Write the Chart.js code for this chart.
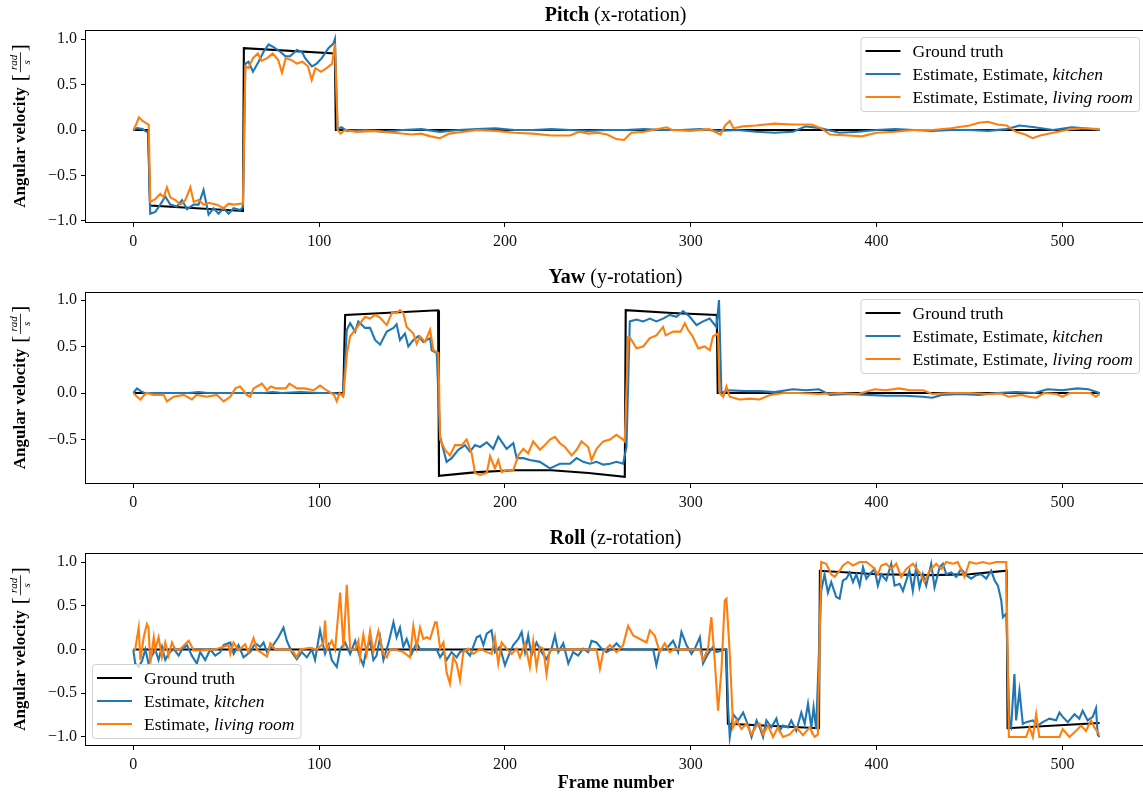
<!DOCTYPE html>
<html>
<head>
<meta charset="utf-8">
<script src="https://cdn.jsdelivr.net/npm/chart.js@4.4.0/dist/chart.umd.min.js"></script>
<style>
  html, body { margin: 0; padding: 0; background: #fff; overflow: hidden; }
  #wrap { position: relative; width: 1143px; height: 796px; overflow: hidden; }
  canvas { position: absolute; left: 0; }
</style>
</head>
<body>
<div id="wrap">
  <canvas id="pitch" width="1147" height="262" style="top:0px"></canvas>
  <canvas id="yaw" width="1147" height="262" style="top:262px"></canvas>
  <canvas id="roll" width="1147" height="272" style="top:524px"></canvas>
</div>
<script>
// ---- data: [frame, angular velocity] ----
const xTicks = [0, 100, 200, 300, 400, 500];
const yTicksFull = [-1.0, -0.5, 0.0, 0.5, 1.0];
const yTicksYaw = [-0.5, 0.0, 0.5, 1.0];

const pitchGround = [[0,0],[8,0],[9,-0.83],[59,-0.89],[59.5,0.90],[108.5,0.84],[109,0],[520,0]];
const pitchKitchen = [[0,0],[2,0.02],[5,0.01],[7,-0.02],[8,-0.02],[9.1,-0.92],[11.8,-0.90],[14.5,-0.82],[17.2,-0.73],[19.9,-0.82],[23.5,-0.84],[26.2,-0.77],[28.9,-0.87],[32.5,-0.82],[35.1,-0.82],[37.8,-0.66],[40.5,-0.93],[43.2,-0.86],[45.9,-0.92],[48.6,-0.86],[51.3,-0.92],[54,-0.86],[57.5,-0.88],[59,-0.85],[60.3,0.73],[62,0.75],[64.4,0.64],[67.4,0.75],[70.1,0.86],[72.8,0.94],[75.5,0.91],[79.1,0.86],[81.8,0.81],[84.4,0.81],[88,0.88],[90.7,0.86],[92.5,0.79],[96.1,0.70],[98.7,0.73],[101.4,0.79],[105,0.90],[107.7,0.95],[108.5,1.0],[109.9,0.01],[112,0.03],[115,-0.01],[125,0],[135,-0.02],[145,0],[155,0.01],[165,-0.02],[175,0],[185,0.01],[195,0.02],[205,0],[215,0],[225,0.01],[235,0],[245,-0.01],[255,0],[265,0],[275,0.01],[285,0],[295,0],[305,0.01],[315,-0.01],[325,0],[335,-0.02],[345,-0.03],[355,-0.02],[362,0.04],[370,0.02],[380,-0.03],[390,-0.02],[400,0],[410,0.01],[420,0],[430,-0.01],[440,0],[450,0],[460,-0.01],[470,0.01],[477,0.05],[485,0.03],[495,0],[505,0.03],[512,0.02],[520,0]];
const pitchLiving = [[0,0],[1.5,0.06],[3,0.14],[5,0.10],[7.3,0.07],[8.3,0.06],[9.1,-0.79],[11.8,-0.76],[14.5,-0.70],[16.3,-0.74],[18.1,-0.63],[19.9,-0.74],[22.6,-0.77],[25.3,-0.82],[28,-0.77],[30.7,-0.63],[32.5,-0.79],[35.1,-0.77],[37.8,-0.82],[40.5,-0.80],[45,-0.82],[48.6,-0.86],[51.3,-0.81],[54,-0.82],[57.5,-0.81],[59,-0.81],[60.3,0.70],[62,0.68],[64.4,0.79],[67,0.84],[69,0.76],[72,0.79],[75,0.84],[78,0.77],[80,0.63],[82,0.79],[85,0.77],[88,0.73],[91,0.75],[94,0.70],[96,0.55],[98,0.68],[101,0.64],[104,0.68],[107,0.73],[108.5,0.95],[110,0],[111.5,-0.04],[114,0],[120,-0.02],[130,-0.01],[140,-0.03],[150,-0.05],[155,-0.04],[160,-0.07],[165,-0.09],[170,-0.04],[178,-0.02],[185,0],[195,-0.01],[205,-0.03],[215,-0.04],[225,-0.06],[235,-0.06],[240,-0.02],[245,-0.04],[250,-0.03],[255,-0.05],[260,-0.10],[264,-0.11],[268,-0.03],[275,-0.02],[287,0.03],[290,0],[300,-0.01],[310,0.01],[316,-0.05],[318.5,0.05],[321,0.10],[323,0.02],[328,0.04],[335,0.05],[345,0.07],[355,0.06],[365,0.06],[370,0.02],[375,-0.05],[385,-0.06],[392,-0.07],[400,-0.03],[410,-0.02],[420,0],[430,0],[440,0.02],[450,0.05],[455,0.08],[460,0.09],[465,0.06],[470,0.05],[475,-0.02],[480,-0.05],[484,-0.09],[488,-0.06],[495,-0.03],[505,0.01],[512,0.02],[520,0.01]];

const yawGround = [[0,0],[113,0],[114,0.84],[164,0.89],[164.5,-0.89],[185,-0.85],[205,-0.83],[225,-0.83],[245,-0.86],[264.5,-0.90],[265,0.89],[290,0.86],[314,0.84],[314.5,0],[520,0]];
const yawKitchen = [[0,0],[2,0.05],[4,0.02],[6,0],[10,0],[20,0],[30,0],[35,0.01],[40,0],[50,0],[60,0],[70,0],[75,0.01],[80,0],[90,0.01],[100,0],[108,0],[113,-0.02],[114.9,0.68],[116.7,0.75],[119.4,0.66],[121.1,0.77],[124.7,0.70],[127.4,0.70],[130.1,0.57],[132.8,0.52],[136.4,0.66],[140,0.70],[141.7,0.74],[143.5,0.57],[146.2,0.64],[148,0.50],[150.7,0.57],[153.4,0.61],[156.1,0.55],[159.7,0.59],[160.6,0.46],[163.3,0.43],[165.1,-0.47],[166.9,-0.61],[168.6,-0.74],[171.3,-0.70],[174.9,-0.61],[178.5,-0.56],[181.2,-0.63],[183.9,-0.56],[186.6,-0.58],[190.2,-0.53],[193.7,-0.60],[196.4,-0.47],[200.9,-0.60],[204.5,-0.54],[206.3,-0.70],[209.9,-0.70],[213.4,-0.72],[218.8,-0.74],[224.2,-0.81],[229.6,-0.76],[235,-0.76],[238.6,-0.70],[242.1,-0.74],[245.7,-0.76],[249.3,-0.74],[252.9,-0.77],[256.5,-0.76],[260,-0.74],[263.6,-0.76],[265.4,-0.58],[267.2,0.77],[270.8,0.79],[274.4,0.77],[278,0.80],[281.5,0.77],[285.1,0.80],[288.7,0.84],[292.3,0.82],[295.9,0.88],[299.5,0.82],[303.1,0.73],[306.6,0.77],[310.2,0.80],[313.8,0.71],[315.2,1.0],[316.5,0],[320,0.03],[330,0.02],[337,0.02],[345,0.01],[355,0.04],[362,0.03],[369,0.04],[375,-0.02],[385,-0.01],[395,-0.02],[405,-0.03],[415,-0.03],[425,-0.04],[430,-0.05],[435,-0.02],[445,-0.01],[455,-0.02],[465,0],[475,0.01],[485,0],[492,0.04],[500,0.03],[508,0.05],[514,0.04],[520,0]];
const yawLiving = [[0,0],[2,-0.04],[3.8,-0.07],[6,-0.02],[7.3,0],[10.9,-0.02],[16.3,-0.02],[18.1,-0.09],[21.7,-0.04],[27.1,-0.02],[31.5,-0.07],[34,-0.02],[39.6,-0.04],[45,-0.02],[48.6,-0.09],[52.2,-0.04],[54.9,0.05],[57.5,0.07],[61.1,-0.02],[62.9,-0.04],[64.7,0.05],[69.2,0.10],[71.9,0.03],[74,0.07],[77,0.05],[82,0.05],[84,0.10],[88,0.05],[92,0.05],[97,0.03],[100.5,0.08],[104,0.03],[108,-0.02],[109.5,-0.09],[111,0],[113,-0.04],[115,0.43],[116.7,0.61],[119.4,0.68],[122,0.75],[124.7,0.82],[127.4,0.80],[130.1,0.84],[132.8,0.81],[136.4,0.73],[139.1,0.86],[141.7,0.86],[143.5,0.89],[145.3,0.86],[147.1,0.71],[150.7,0.64],[152.5,0.53],[154.3,0.61],[157,0.55],[159.7,0.68],[161.5,0.46],[164.2,0.43],[165.1,-0.50],[167.7,-0.61],[170.4,-0.67],[173.1,-0.56],[176.7,-0.56],[179.4,-0.50],[182.1,-0.65],[183.9,-0.86],[186.6,-0.88],[190.2,-0.86],[192,-0.68],[194.6,-0.81],[196.4,-0.72],[198.2,-0.85],[200.9,-0.83],[204.5,-0.83],[207.2,-0.67],[209.9,-0.60],[212.5,-0.65],[215.2,-0.52],[218.8,-0.61],[221.5,-0.56],[224.2,-0.50],[226.9,-0.47],[229.6,-0.54],[232.3,-0.58],[235.9,-0.67],[238.6,-0.61],[241.2,-0.52],[244.8,-0.58],[246.6,-0.72],[249.3,-0.60],[252.9,-0.52],[256.5,-0.50],[260,-0.45],[263.6,-0.50],[264.5,-0.52],[266.3,0.60],[267.5,0.59],[270.8,0.48],[274.4,0.50],[278,0.59],[281.5,0.62],[285.1,0.71],[286.5,0.62],[290.5,0.66],[294.5,0.66],[296.8,0.75],[298.5,0.68],[301,0.61],[304,0.48],[307.5,0.50],[310.2,0.46],[312,0.61],[314.7,0.64],[315.5,0],[317.5,-0.04],[319.2,0.07],[321,-0.04],[323,-0.05],[326.3,-0.07],[332,-0.06],[337,-0.07],[343,-0.02],[350,0],[358,0],[369,-0.01],[380,0],[390,-0.01],[399,0.04],[405,0.03],[412,0.05],[418,0.03],[425,0.03],[430,-0.01],[440,0],[450,0],[460,-0.01],[467,-0.005],[471,-0.04],[478,-0.02],[482,-0.04],[486,-0.05],[490,0],[497,-0.01],[500,-0.04],[504,0],[510,0],[515,0],[518,-0.04],[520,-0.01]];

const rollGround = [[0,0],[319,0],[320,-0.85],[369,-0.90],[369.5,0.90],[400,0.86],[430,0.85],[450,0.86],[470,0.90],[470.5,-0.90],[520,-0.84]];
const rollKitchen = [[0,0],[1,-0.16],[2.9,-0.20],[4.7,-0.13],[6.5,0],[8.2,-0.16],[10,-0.07],[11.8,0],[13.6,-0.12],[15.4,0.03],[17.2,-0.12],[19,-0.05],[21.7,0.01],[24.4,-0.07],[26.2,0],[28.9,0.05],[31.5,-0.07],[34.2,-0.16],[36,-0.03],[38.7,-0.12],[41.4,0],[44.1,-0.07],[46.8,-0.03],[48.6,0.05],[52.2,0.08],[54,-0.05],[56.6,0.05],[59.3,-0.09],[62.9,-0.03],[65.6,0.07],[68.3,0.03],[70.1,0.08],[71.9,-0.03],[74.6,0.03],[78.1,0.14],[80.8,0.25],[82.6,0.10],[85.3,-0.03],[88,-0.11],[90.7,-0.03],[93.4,-0.09],[96.1,0],[97.8,-0.12],[100.5,0.22],[103.2,-0.05],[105,0.05],[106.8,-0.12],[109.5,-0.20],[111.3,0],[114,0.08],[116.7,-0.05],[119.4,0.10],[122,-0.09],[123.8,-0.18],[125.6,0.01],[127.4,0.10],[129.2,-0.12],[130.9,-0.07],[132.8,0.14],[134.6,-0.12],[137.3,0.07],[140,0.31],[141.7,0.14],[143.5,0.25],[145.3,0.03],[147.1,0.12],[149.8,-0.05],[152.5,0.08],[154.3,0],[157,0],[163.3,0],[165.1,-0.09],[166.9,-0.03],[168.6,-0.12],[171.3,-0.03],[174,-0.09],[175.8,-0.03],[178.5,0],[181.2,-0.07],[184.8,0.14],[186.6,0.16],[188.4,0.05],[190.2,0.18],[192.8,0.22],[194.6,-0.03],[197.3,0.03],[200,-0.18],[202.7,-0.03],[204.5,0.05],[207.2,0.12],[209,0.20],[210.8,-0.03],[212.5,0.16],[214.3,-0.07],[217,0.08],[219.7,-0.03],[222.4,-0.11],[225.1,0.01],[226.9,0.16],[228.7,-0.03],[231.4,0.07],[234.1,-0.16],[236.7,-0.03],[239.4,-0.07],[242.1,0.01],[244.8,-0.03],[246.6,0.10],[249.3,0.08],[252,0.01],[254.7,-0.03],[257.4,0.01],[260,0.07],[262.7,0.01],[265.4,0],[279.8,0],[281.5,-0.18],[283.3,-0.01],[286.9,0.01],[290.5,0.10],[293.2,-0.03],[295,0.20],[297.7,0.05],[300.4,-0.05],[302.2,0.01],[304.9,0.14],[306.6,-0.16],[309.3,-0.05],[312,0.03],[313.8,-0.03],[319.2,0],[320.1,-0.66],[321,-1.0],[322.8,-0.74],[325.5,-0.81],[328.2,-0.72],[330.9,-0.87],[332.7,-1.0],[335.4,-0.81],[337.1,-0.89],[338.9,-1.0],[340.7,-0.81],[343.4,-0.89],[346.1,-0.79],[347.8,-0.93],[349.6,-0.87],[352.3,-0.89],[354.1,-0.81],[356.8,-0.93],[359.5,-0.72],[361.3,-0.85],[363.1,-0.62],[364.9,-0.89],[366.1,-0.66],[367.5,-0.91],[370.2,0.67],[372,0.86],[373.8,0.65],[375.6,0.77],[378.3,0.60],[380.1,0.58],[381.9,0.79],[383.7,0.81],[385.5,0.88],[387.3,0.77],[389.1,0.86],[390.9,0.73],[392.7,0.94],[394.5,0.81],[396.3,0.86],[398.9,0.92],[400.7,0.73],[402.5,0.86],[405.2,0.79],[407.9,0.98],[409.7,0.73],[412.4,0.75],[414.2,0.67],[416,0.79],[417.7,0.90],[419.5,0.67],[421.3,0.94],[423.1,0.71],[424.9,0.86],[426.7,0.73],[429.4,0.98],[431.2,0.71],[433.9,0.94],[435.7,0.98],[437.5,0.86],[440.2,0.88],[442.9,0.83],[445.5,0.92],[448.2,0.85],[450.9,0.81],[453.6,0.85],[456.3,0.86],[459,0.81],[461.7,0.90],[463.5,0.79],[465.3,0.73],[467.1,0.56],[468,0.37],[469.8,0.41],[471.5,-0.85],[472.4,-0.89],[474.2,-0.28],[475.1,-0.81],[476.9,-0.47],[478.7,-0.85],[480.5,-0.83],[484.1,-0.81],[486.7,-0.87],[489.4,-0.83],[493,-0.79],[496.6,-0.81],[498.4,-0.72],[500.2,-0.77],[502.9,-0.83],[506.5,-0.74],[509.1,-0.79],[510.9,-0.70],[513.6,-0.81],[516.3,-0.77],[518.1,-0.67],[519,-0.97],[519.9,-1.0]];
const rollLiving = [[0,0],[1,0],[2.9,0.25],[3.8,-0.12],[5.6,0.14],[7.3,0.29],[8.2,0.25],[9.1,-0.16],[11,0.14],[11.8,0],[13.6,0.14],[15.4,-0.09],[17.2,0.08],[19,-0.07],[20.8,0.08],[22.6,0],[25,0],[29.8,0.10],[32.5,-0.01],[36,-0.01],[44,0],[51.3,0.05],[52.2,-0.05],[53.9,0.08],[56.6,-0.01],[60.2,0.06],[61.9,-0.03],[64.7,0.13],[66.5,0],[71.9,-0.08],[73.7,0.07],[76.4,0],[84,0],[86.2,-0.03],[88,-0.09],[89.8,0],[95.2,0.02],[98.7,0],[102.3,0.07],[103.2,0.33],[104.1,0],[106.8,0.10],[108.6,0],[111.3,0.65],[113.1,0.02],[114.9,0.74],[116.7,0],[119.4,0],[121.1,0.10],[122,-0.09],[123.8,0.17],[125.6,-0.05],[127.4,0.21],[129.2,-0.03],[131.9,0.21],[134.6,-0.05],[136.4,-0.09],[138.1,0],[140.9,0],[145.3,-0.03],[148.9,-0.09],[150.7,0.27],[152.5,0.03],[154.3,0.25],[156.1,0.12],[157.9,0.14],[159.7,0.12],[162.4,0.31],[163.3,0.31],[165.1,0.01],[166.9,0.08],[168.6,-0.26],[170.4,-0.39],[172.2,-0.09],[174,-0.16],[175.8,-0.35],[177.6,-0.03],[180.3,0.01],[183,-0.05],[186.6,0.01],[190.2,-0.03],[192.8,-0.05],[194.6,0.14],[196.4,-0.16],[198.2,0.08],[200.9,0.01],[203.6,-0.05],[206.3,0.01],[208.1,-0.09],[210.8,0.07],[213.4,-0.20],[215.2,0.10],[217,-0.20],[218.8,0.03],[220.6,0.01],[222.4,-0.28],[224.2,0],[227,0],[249.3,0],[251.1,-0.22],[252.9,-0.03],[256.5,0.05],[260,-0.03],[263.6,0.05],[266.3,0.27],[269,0.16],[272.6,0.12],[276.2,0.08],[278,0.22],[280.6,0.16],[283.3,-0.03],[286,0.07],[288.7,-0.03],[291.3,0.01],[295,0],[304.9,0],[306.6,-0.12],[309.3,0.01],[311.1,0.37],[312.9,-0.12],[314.7,-0.70],[316.5,-0.24],[318.3,0.56],[319.2,0.58],[321,-0.05],[322.8,-0.89],[324.6,-0.81],[327.3,-0.91],[330,-0.85],[332.7,-0.97],[335.4,-0.87],[337.1,-0.85],[338.9,-0.97],[341.6,-0.87],[344.3,-1.0],[346.9,-0.89],[349.6,-1.0],[353.2,-0.97],[356.8,-0.89],[360.4,-0.98],[364,-0.89],[366.6,-1.0],[368.4,-0.97],[370.2,1.0],[372.9,0.98],[375.6,0.86],[377.4,0.83],[380.1,0.90],[381.9,0.96],[384.6,1.0],[387.3,0.96],[390.9,1.0],[394.5,1.0],[398.1,0.94],[400.7,0.86],[402.5,0.96],[405.2,0.98],[407.9,0.92],[410.6,0.98],[413.3,0.83],[416,0.92],[419.5,0.98],[423.1,0.88],[425.8,0.77],[428.5,0.90],[432.1,0.98],[434.8,0.92],[437.5,1.0],[441.1,0.98],[443.7,1.0],[447.3,0.83],[450,1.0],[453.6,0.98],[457.2,1.0],[460.8,0.98],[464.4,1.0],[469.8,1.0],[471.2,-1.0],[480.5,-1.0],[482.3,-0.89],[484.1,-1.0],[485.9,-0.74],[487.6,-1.0],[498.4,-1.0],[500.2,-0.91],[503.8,-1.0],[507.4,-0.93],[510,-0.87],[512.7,-0.93],[515.4,-0.81],[517.2,-0.89],[519.9,-0.97]];

// legend texts: [text, italic?] pieces
const namesLong = [[['Ground truth']], [['Estimate, Estimate, '], ['kitchen', true]], [['Estimate, Estimate, '], ['living room', true]]];
const namesShort = [[['Ground truth']], [['Estimate, '], ['kitchen', true]], [['Estimate, '], ['living room', true]]];

// ---- drawing ----
const SERIF = '"Liberation Serif", "Times New Roman", serif';
const BLUE = '#1f77b4', ORANGE = '#ff7f0e';

const pts = arr => arr.map(p => ({x: p[0], y: p[1]}));
const fmt = v => (Math.abs(v) < 1e-9 ? '0.0' : v.toFixed(1)).replace('-', '\u2212');

function drawPieces(ctx, pieces, x, y, size) {
  pieces.forEach(p => {
    ctx.font = (p[1] ? 'italic ' : '') + size + 'px ' + SERIF;
    ctx.fillText(p[0], x, y);
    x += ctx.measureText(p[0]).width;
  });
}
function piecesWidth(ctx, pieces, size) {
  let w = 0;
  pieces.forEach(p => {
    ctx.font = (p[1] ? 'italic ' : '') + size + 'px ' + SERIF;
    w += ctx.measureText(p[0]).width;
  });
  return w;
}

function panelPlugin(p) {
  return {
    id: 'panelDeco',
    afterDraw(chart) {
      const ctx = chart.ctx, a = chart.chartArea;
      ctx.save();
      // axes frame
      ctx.strokeStyle = '#000';
      ctx.lineWidth = 1;
      ctx.strokeRect(Math.round(a.left) + 0.5, Math.round(a.top) + 0.5,
        Math.round(a.right - a.left) - 1, Math.round(a.bottom - a.top) - 1);

      // title: bold name + plain axis
      ctx.fillStyle = '#000';
      ctx.textBaseline = 'middle';
      ctx.font = 'bold 20px ' + SERIF;
      const w1 = ctx.measureText(p.title[0]).width;
      ctx.font = '20px ' + SERIF;
      const w2 = ctx.measureText(p.title[1]).width;
      const tx = (a.left + a.right) / 2 - (w1 + w2) / 2;
      ctx.font = 'bold 20px ' + SERIF;
      ctx.fillText(p.title[0], tx, a.top - 14);
      ctx.font = '20px ' + SERIF;
      ctx.fillText(p.title[1], tx + w1, a.top - 14);

      // y label with rad/s fraction
      ctx.save();
      ctx.translate(20, (a.top + a.bottom) / 2);
      ctx.rotate(-Math.PI / 2);
      ctx.font = 'bold 17px ' + SERIF;
      const lab = 'Angular velocity';
      const lw = ctx.measureText(lab).width;
      const fracW = 22, total = lw + 8 + 6 + fracW + 6;
      let lx = -total / 2;
      ctx.textBaseline = 'middle';
      ctx.fillText(lab, lx, 1);
      lx += lw + 8;
      ctx.font = '21px ' + SERIF;
      ctx.fillText('[', lx - 2, 0);
      lx += 6;
      ctx.font = 'italic 11px ' + SERIF;
      ctx.textAlign = 'center';
      ctx.fillText('rad', lx + fracW / 2, -6);
      ctx.fillText('s', lx + fracW / 2, 7);
      ctx.fillRect(lx + 1, 0, fracW - 2, 0.8);
      ctx.textAlign = 'left';
      lx += fracW;
      ctx.font = '21px ' + SERIF;
      ctx.fillText(']', lx, 0);
      ctx.restore();

      // legend
      const fs = 17.5, rowH = 23;
      let tw = 0;
      p.names.forEach(n => { tw = Math.max(tw, piecesWidth(ctx, n, fs)); });
      const bw = 5 + 35 + 12 + tw + 6, bh = rowH * 3 + 5;
      const bx = p.legend === 'tr' ? a.right - 7 - bw : a.left + 7;
      const by = p.legend === 'tr' ? a.top + 7 : a.bottom - 8 - bh;
      ctx.beginPath();
      ctx.roundRect(bx + 0.5, by + 0.5, bw, bh, 3);
      ctx.fillStyle = 'rgba(255,255,255,0.8)';
      ctx.fill();
      ctx.strokeStyle = '#d0d0d0';
      ctx.lineWidth = 1;
      ctx.stroke();
      const cols = ['#000', BLUE, ORANGE];
      p.names.forEach((n, i) => {
        const ry = by + 14 + i * rowH;
        ctx.strokeStyle = cols[i];
        ctx.lineWidth = 2.1;
        ctx.beginPath();
        ctx.moveTo(bx + 5, ry);
        ctx.lineTo(bx + 40, ry);
        ctx.stroke();
        ctx.fillStyle = '#000';
        ctx.textBaseline = 'middle';
        drawPieces(ctx, n, bx + 52, ry + 1, fs);
      });

      // x label
      if (p.xlabel) {
        ctx.font = 'bold 18px ' + SERIF;
        ctx.textAlign = 'center';
        ctx.textBaseline = 'middle';
        ctx.fillStyle = '#000';
        ctx.fillText(p.xlabel, 616, a.bottom + 37);
      }
      ctx.restore();
    }
  };
}

function makePanel(p) {
  const line = (data, color, order) => ({
    data: pts(data), borderColor: color, borderWidth: 2.1, pointRadius: 0,
    fill: false, tension: 0, order: order
  });
  new Chart(document.getElementById(p.id), {
    type: 'line',
    data: {
      datasets: [
        line(p.ground, '#000', 3),
        line(p.kitchen, BLUE, 2),
        line(p.living, ORANGE, 1)
      ]
    },
    options: {
      responsive: false,
      animation: false,
      events: [],
      layout: { padding: { left: 0, right: 1, top: p.top, bottom: 0 } },
      plugins: { legend: { display: false }, tooltip: { enabled: false } },
      scales: {
        x: {
          type: 'linear', min: -26, max: 545,
          afterBuildTicks: s => { s.ticks = xTicks.map(v => ({value: v})); },
          afterFit: s => { s.height = p.xAxisH; },
          border: { display: false },
          grid: { drawOnChartArea: false, drawTicks: true, tickLength: 4, color: '#000', lineWidth: 1 },
          ticks: { color: '#111', padding: 5, maxRotation: 0, font: { family: SERIF, size: 16 },
                   callback: v => String(v) }
        },
        y: {
          min: p.yMin, max: p.yMax,
          afterBuildTicks: s => { s.ticks = p.yTicks.map(v => ({value: v})); },
          afterFit: s => { s.width = 85; },
          border: { display: false },
          grid: { drawOnChartArea: false, drawTicks: true, tickLength: 4, color: '#000', lineWidth: 1 },
          ticks: { color: '#111', padding: 4, font: { family: SERIF, size: 16 }, callback: v => fmt(v) }
        }
      }
    },
    plugins: [panelPlugin(p)]
  });
}

makePanel({ id: 'pitch', top: 30, xAxisH: 39, yMin: -1.022, yMax: 1.099, yTicks: yTicksFull,
  title: ['Pitch', ' (x-rotation)'], ground: pitchGround, kitchen: pitchKitchen, living: pitchLiving,
  names: namesLong, legend: 'tr' });
makePanel({ id: 'yaw', top: 30, xAxisH: 40, yMin: -0.978, yMax: 1.086, yTicks: yTicksYaw,
  title: ['Yaw', ' (y-rotation)'], ground: yawGround, kitchen: yawKitchen, living: yawLiving,
  names: namesLong, legend: 'tr' });
makePanel({ id: 'roll', top: 29, xAxisH: 50, yMin: -1.103, yMax: 1.103, yTicks: yTicksFull,
  title: ['Roll', ' (z-rotation)'], ground: rollGround, kitchen: rollKitchen, living: rollLiving,
  names: namesShort, legend: 'bl', xlabel: 'Frame number' });
</script>
</body>
</html>
